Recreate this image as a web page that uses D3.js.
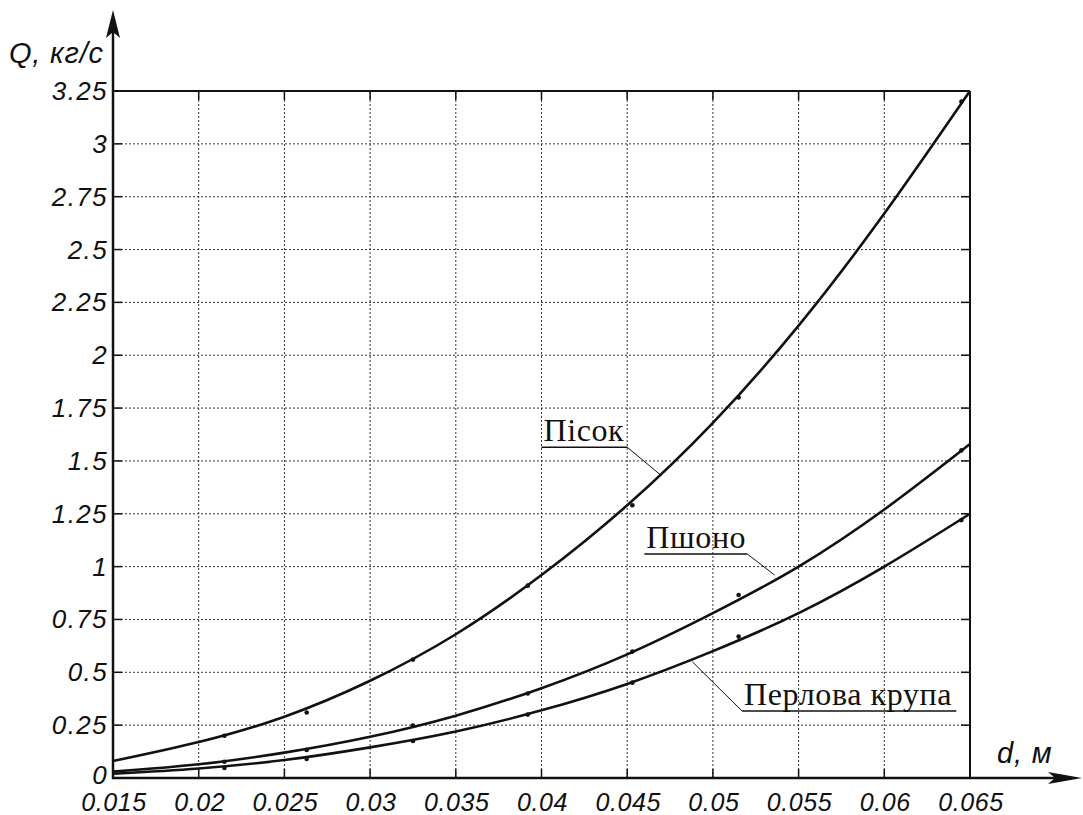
<!DOCTYPE html>
<html>
<head>
<meta charset="utf-8">
<script src="https://cdn.jsdelivr.net/npm/d3@7"></script>
<style>
  body { margin: 0; background: #fff; }
  svg { display: block; }
  .tick-label { font-family: "Liberation Sans", Arial, sans-serif; font-style: italic; font-size: 25px; letter-spacing: 0.6px; fill: #111; }
  .tick-label.q { font-size: 26px; letter-spacing: 1.4px; }
  .axis-title { font-family: "Liberation Sans", Arial, sans-serif; font-style: italic; font-size: 29px; letter-spacing: 0.8px; fill: #111; }
  .curve-label { font-family: "Liberation Serif", "Times New Roman", serif; font-size: 32px; letter-spacing: 0.6px; fill: #111; }
  .grid { stroke: #333; stroke-width: 1; stroke-dasharray: 2,2; }
</style>
</head>
<body>
<div id="chart"></div>
<script>
// ticks
const dTicks = [0.015, 0.02, 0.025, 0.03, 0.035, 0.04, 0.045, 0.05, 0.055, 0.06, 0.065];
const qTicks = [0, 0.25, 0.5, 0.75, 1, 1.25, 1.5, 1.75, 2, 2.25, 2.5, 2.75, 3, 3.25];

// fitted curves at every 0.005 m
const curveD   = [0.015, 0.02, 0.025, 0.03, 0.035, 0.04, 0.045, 0.05, 0.055, 0.06, 0.065];
const pisokQ   = [0.08, 0.17, 0.29, 0.46, 0.68, 0.96, 1.29, 1.68, 2.14, 2.67, 3.25];
const pshonoQ  = [0.03, 0.065, 0.12, 0.195, 0.295, 0.425, 0.585, 0.78, 1.0, 1.27, 1.58];
const perlovaQ = [0.02, 0.045, 0.085, 0.145, 0.22, 0.32, 0.445, 0.6, 0.78, 1.0, 1.25];

// measured points
const pointD     = [0.0215, 0.0263, 0.0325, 0.0392, 0.0453, 0.0515, 0.0645];
const pisokPts   = [0.20, 0.31, 0.56, 0.91, 1.29, 1.80, 3.20];
const pshonoPts  = [0.077, 0.133, 0.248, 0.40, 0.598, 0.866, 1.55];
const perlovaPts = [0.047, 0.09, 0.175, 0.30, 0.451, 0.669, 1.22];

// callout labels: [text, underline from d, to d, at Q, leader end d, leader end Q, leader side]
const labels = [
  ["Пісок", 0.040, 0.045, 1.565, 0.047, 1.43, "right"],
  ["Пшоно", 0.046, 0.052, 1.06, 0.0536, 0.96, "right"],
  ["Перлова крупа", 0.0517, 0.0642, 0.317, 0.0488, 0.55, "left"]
];

const width = 1083, height = 815;
const x = d3.scaleLinear().domain([0.015, 0.065]).range([113, 970]);
const y = d3.scaleLinear().domain([0, 3.25]).range([778, 91]);

const svg = d3.select("#chart").append("svg")
  .attr("width", width).attr("height", height);
svg.append("rect").attr("width", width).attr("height", height).attr("fill", "#fff");

// grid
svg.append("g").selectAll("line")
  .data(dTicks.slice(1, -1)).enter().append("line")
  .attr("class", "grid")
  .attr("x1", d => x(d)).attr("x2", d => x(d))
  .attr("y1", y(0)).attr("y2", y(3.25));
svg.append("g").selectAll("line")
  .data(qTicks.slice(1, -1)).enter().append("line")
  .attr("class", "grid")
  .attr("x1", x(0.015)).attr("x2", x(0.065))
  .attr("y1", d => y(d)).attr("y2", d => y(d));

// inward tick marks on all four sides
const tk = 9;
const ticks = svg.append("g").attr("stroke", "#111").attr("stroke-width", 1.5);
dTicks.forEach(d => {
  ticks.append("line").attr("x1", x(d)).attr("x2", x(d)).attr("y1", y(0)).attr("y2", y(0) - tk);
  ticks.append("line").attr("x1", x(d)).attr("x2", x(d)).attr("y1", y(3.25)).attr("y2", y(3.25) + tk);
});
qTicks.forEach(q => {
  ticks.append("line").attr("x1", x(0.015)).attr("x2", x(0.015) + tk).attr("y1", y(q)).attr("y2", y(q));
  ticks.append("line").attr("x1", x(0.065)).attr("x2", x(0.065) - tk).attr("y1", y(q)).attr("y2", y(q));
});

// frame top / right
svg.append("line").attr("x1", x(0.015)).attr("x2", x(0.065)).attr("y1", y(3.25)).attr("y2", y(3.25))
  .attr("stroke", "#111").attr("stroke-width", 2);
svg.append("line").attr("x1", x(0.065)).attr("x2", x(0.065)).attr("y1", y(3.25)).attr("y2", y(0))
  .attr("stroke", "#111").attr("stroke-width", 2);

// axes with arrows
const x0 = x(0.015), y0 = y(0);
svg.append("line").attr("x1", x0).attr("x2", x0).attr("y1", y0 + 1).attr("y2", 20)
  .attr("stroke", "#111").attr("stroke-width", 2.5);
svg.append("path")
  .attr("d", `M${x0},10 L${x0 + 7},38 L${x0},32 L${x0 - 7},38 Z`)
  .attr("fill", "#111");
svg.append("line").attr("x1", x0 - 1).attr("x2", 1072).attr("y1", y0).attr("y2", y0)
  .attr("stroke", "#111").attr("stroke-width", 2.5);
svg.append("path")
  .attr("d", `M1082,${y0} L1048,${y0 - 6} L1055,${y0} L1048,${y0 + 6} Z`)
  .attr("fill", "#111");

// tick labels
svg.append("g").selectAll("text")
  .data(dTicks).enter().append("text")
  .attr("class", "tick-label")
  .attr("x", d => x(d) + 1).attr("y", 811)
  .attr("text-anchor", "middle")
  .text(d => String(d));
svg.append("g").selectAll("text")
  .data(qTicks).enter().append("text")
  .attr("class", "tick-label q")
  .attr("x", 108).attr("y", q => y(q) + (q === 0 ? 6 : 9))
  .attr("text-anchor", "end")
  .text(q => String(q));

// axis titles
svg.append("text").attr("class", "axis-title").attr("x", 9).attr("y", 63).text("Q, кг/с");
svg.append("text").attr("class", "axis-title").attr("x", 997).attr("y", 763).text("d, м");

// curves
const line = d3.line().x(p => x(p[0])).y(p => y(p[1])).curve(d3.curveNatural);
[pisokQ, pshonoQ, perlovaQ].forEach(vals => {
  svg.append("path")
    .datum(curveD.map((d, i) => [d, vals[i]]))
    .attr("d", line)
    .attr("fill", "none")
    .attr("stroke", "#111")
    .attr("stroke-width", 2.6);
});

// points
[pisokPts, pshonoPts, perlovaPts].forEach(vals => {
  svg.append("g").selectAll("circle")
    .data(pointD.map((d, i) => [d, vals[i]])).enter().append("circle")
    .attr("cx", p => x(p[0])).attr("cy", p => y(p[1]))
    .attr("r", 2.3).attr("fill", "#111");
});

// callouts
labels.forEach(([txt, dA, dB, q, dL, qL, side]) => {
  const g = svg.append("g");
  g.append("text").attr("class", "curve-label")
    .attr("x", x(dA) + 2).attr("y", y(q) - 6).text(txt);
  g.append("line").attr("x1", x(dA)).attr("x2", x(dB)).attr("y1", y(q)).attr("y2", y(q))
    .attr("stroke", "#111").attr("stroke-width", 1.5);
  const from = side === "right" ? x(dB) : x(dA);
  g.append("line").attr("x1", from).attr("y1", y(q)).attr("x2", x(dL)).attr("y2", y(qL))
    .attr("stroke", "#111").attr("stroke-width", 1);
});
</script>
</body>
</html>
